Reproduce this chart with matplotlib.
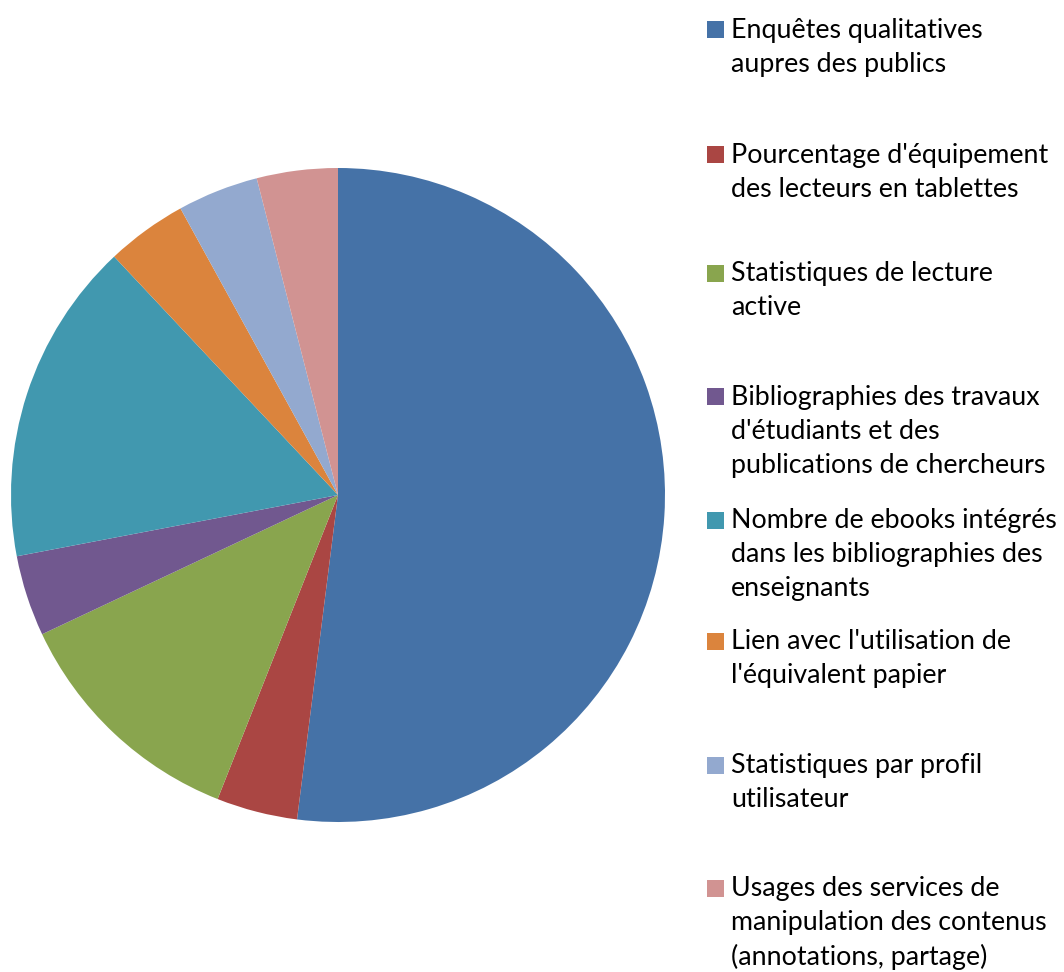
import matplotlib.pyplot as plt
from matplotlib.patches import Rectangle

# Indicateurs d'usage des ebooks (nombre de réponses)
labels = [
    "Enquêtes qualitatives\naupres des publics",
    "Pourcentage d'équipement\ndes lecteurs en tablettes",
    "Statistiques de lecture\nactive",
    "Bibliographies des travaux\nd'étudiants et des\npublications de chercheurs",
    "Nombre de ebooks intégrés\ndans les bibliographies des\nenseignants",
    "Lien avec l'utilisation de\nl'équivalent papier",
    "Statistiques par profil\nutilisateur",
    "Usages des services de\nmanipulation des contenus\n(annotations, partage)",
]
values = [13, 1, 3, 1, 4, 1, 1, 1]
colors = ['#4572A7', '#AA4643', '#89A54E', '#71588F',
          '#4198AF', '#DB843D', '#93A9CF', '#D19392']

W, H = 1064, 972
fig = plt.figure(figsize=(W / 100, H / 100), dpi=100)

# pie: centre (338, 495) px, rayon 327 px
cx, cy, r = 338, 495, 327
ax = fig.add_axes([(cx - r) / W, (H - cy - r) / H, 2 * r / W, 2 * r / H])
ax.pie(values, colors=colors, startangle=90, counterclock=False,
       wedgeprops=dict(linewidth=0))
ax.set_xlim(-1, 1)
ax.set_ylim(-1, 1)
ax.axis('off')

# legend built by hand so the entries sit where we want them
rows = [30, 155, 273, 397, 520, 641, 765, 888]
for lab, col, y in zip(labels, colors, rows):
    fig.patches.append(Rectangle((707 / W, (H - y - 8.5) / H), 17 / W, 17 / H,
                                 transform=fig.transFigure, facecolor=col,
                                 edgecolor='none'))
    fig.text(731 / W, (H - y + 12) / H, lab, fontsize=19.3, family='Lato',
             va='top', ha='left', linespacing=1.44, color='black')

fig.savefig('out.png', dpi=100)
